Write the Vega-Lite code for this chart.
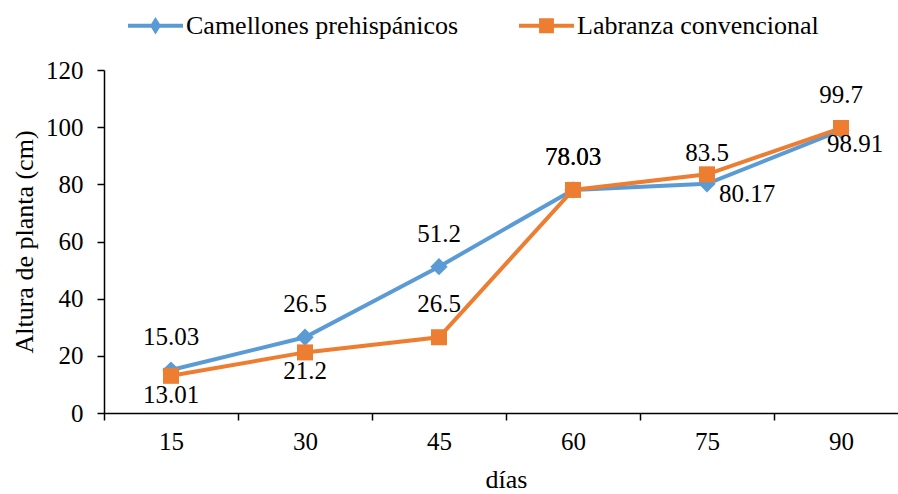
{
  "$schema": "https://vega.github.io/schema/vega-lite/v6.json",
  "width": 804,
  "height": 343,
  "autosize": {"type": "none"},
  "padding": {"left": 104, "top": 70, "right": -10, "bottom": 81},
  "background": "white",
  "config": {
    "font": "'Liberation Serif', 'Times New Roman', serif",
    "text": {"font": "'Liberation Serif', 'Times New Roman', serif"},
    "view": {"stroke": null},
    "axis": {"labelFont": "'Liberation Serif', 'Times New Roman', serif", "titleFont": "'Liberation Serif', 'Times New Roman', serif", "labelFontSize": 25, "titleFontSize": 26, "labelColor": "#000", "titleColor": "#000", "titleFontWeight": "normal", "domainColor": "#000", "tickColor": "#000", "domainWidth": 1.5, "tickWidth": 1.5, "grid": false},
    "legend": {"labelFont": "'Liberation Serif', 'Times New Roman', serif"}
  },
  "data": {"values": [
    {"dias": "15", "serie": "Camellones prehispánicos", "altura": 15.03},
    {"dias": "30", "serie": "Camellones prehispánicos", "altura": 26.5},
    {"dias": "45", "serie": "Camellones prehispánicos", "altura": 51.2},
    {"dias": "60", "serie": "Camellones prehispánicos", "altura": 78.03},
    {"dias": "75", "serie": "Camellones prehispánicos", "altura": 80.17},
    {"dias": "90", "serie": "Camellones prehispánicos", "altura": 98.91},
    {"dias": "15", "serie": "Labranza convencional", "altura": 13.01},
    {"dias": "30", "serie": "Labranza convencional", "altura": 21.2},
    {"dias": "45", "serie": "Labranza convencional", "altura": 26.5},
    {"dias": "60", "serie": "Labranza convencional", "altura": 78.03},
    {"dias": "75", "serie": "Labranza convencional", "altura": 83.5},
    {"dias": "90", "serie": "Labranza convencional", "altura": 99.7}
  ]},
  "encoding": {
    "x": {"field": "dias", "type": "ordinal", "sort": ["15", "30", "45", "60", "75", "90"],
      "scale": {"type": "band", "paddingInner": 0, "paddingOuter": 0},
      "axis": {"title": "días", "labelAngle": 0, "tickBand": "extent", "tickSize": 7, "labelPadding": 9, "titlePadding": 12}},
    "y": {"field": "altura", "type": "quantitative",
      "scale": {"domain": [0, 120], "nice": false, "zero": true},
      "axis": {"title": "Altura de planta (cm)", "values": [0, 20, 40, 60, 80, 100, 120], "tickSize": 7, "labelPadding": 14, "titlePadding": 8}}
  },
  "layer": [
    {
      "mark": {"type": "line", "strokeWidth": 4},
      "encoding": {
        "color": {"field": "serie", "type": "nominal",
          "scale": {"domain": ["Camellones prehispánicos", "Labranza convencional"], "range": ["#5B9BD5", "#ED7D31"]},
          "legend": {
            "orient": "none", "legendX": 24, "legendY": -72, "direction": "horizontal", "title": null,
            "labelFontSize": 26, "labelColor": "#000", "labelLimit": 400,
            "symbolSize": 3025, "symbolStrokeWidth": 0, "columnPadding": 60, "labelOffset": 3,
            "encode": {"symbols": {"update": {
              "shape": {"signal": "datum.value === 'Camellones prehispánicos' ? 'M-1,-0.07L1,-0.07L1,0.07L-1,0.07Z M0,-0.32L0.2,0L0,0.32L-0.2,0Z' : 'M-1,-0.07L1,-0.07L1,0.07L-1,0.07Z M-0.27,-0.27L0.27,-0.27L0.27,0.27L-0.27,0.27Z'"},
              "strokeWidth": {"value": 0},
              "fillOpacity": {"value": 1}
            }}}
          }}
      }
    },
    {
      "transform": [{"filter": "datum.serie === 'Camellones prehispánicos'"}],
      "mark": {"type": "point", "filled": true, "opacity": 1, "shape": "diamond", "size": 300},
      "encoding": {"color": {"field": "serie", "type": "nominal", "legend": null}}
    },
    {
      "transform": [{"filter": "datum.serie === 'Labranza convencional'"}],
      "mark": {"type": "point", "filled": true, "opacity": 1, "shape": "square", "size": 256},
      "encoding": {"color": {"field": "serie", "type": "nominal", "legend": null}}
    },
    {
      "transform": [{"filter": "(datum.serie === 'Camellones prehispánicos' && (datum.dias === '15' || datum.dias === '30' || datum.dias === '45' || datum.dias === '60')) || (datum.serie === 'Labranza convencional' && (datum.dias === '45' || datum.dias === '60' || datum.dias === '90'))"}],
      "mark": {"type": "text", "fontSize": 25, "dy": -33, "color": "#000"},
      "encoding": {"text": {"field": "altura", "type": "quantitative", "format": ".4~f"}}
    },
    {
      "transform": [{"filter": "datum.serie === 'Camellones prehispánicos' && datum.dias === '75'"}],
      "mark": {"type": "text", "fontSize": 25, "dy": 10, "dx": 40, "color": "#000"},
      "encoding": {"text": {"field": "altura", "type": "quantitative", "format": ".4~f"}}
    },
    {
      "transform": [{"filter": "datum.serie === 'Camellones prehispánicos' && datum.dias === '90'"}],
      "mark": {"type": "text", "fontSize": 25, "dy": 14, "dx": 14, "color": "#000"},
      "encoding": {"text": {"field": "altura", "type": "quantitative", "format": ".4~f"}}
    },
    {
      "transform": [{"filter": "datum.serie === 'Labranza convencional' && (datum.dias === '15' || datum.dias === '30')"}],
      "mark": {"type": "text", "fontSize": 25, "dy": 19, "color": "#000"},
      "encoding": {"text": {"field": "altura", "type": "quantitative", "format": ".4~f"}}
    },
    {
      "transform": [{"filter": "datum.serie === 'Labranza convencional' && datum.dias === '75'"}],
      "mark": {"type": "text", "fontSize": 25, "dy": -21, "color": "#000"},
      "encoding": {"text": {"field": "altura", "type": "quantitative", "format": ".4~f"}}
    }
  ]
}
